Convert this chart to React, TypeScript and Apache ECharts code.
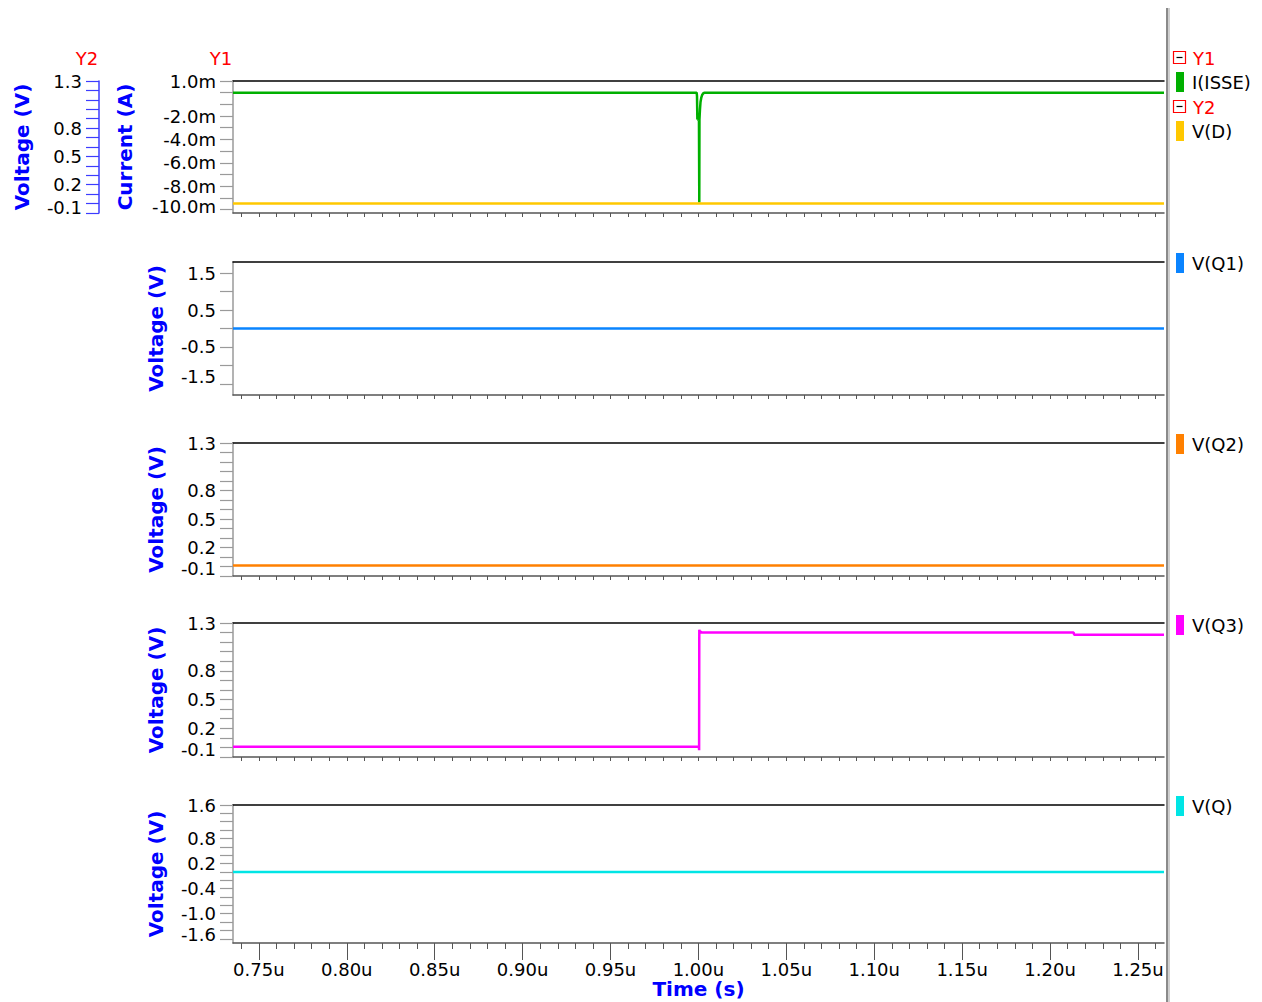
import React, { useEffect, useRef } from "react";
import * as echarts from "echarts";

const FONT = '"DejaVu Sans", Verdana, sans-serif';

const T_MIN = 0.7353;
const T_MAX = 1.2648;

const timeMajorTicks = [0.75, 0.8, 0.85, 0.9, 0.95, 1.0, 1.05, 1.1, 1.15, 1.2, 1.25];
const timeMinorTicks = [
  0.74, 0.75, 0.76, 0.77, 0.78, 0.79, 0.8, 0.81, 0.82, 0.83, 0.84, 0.85, 0.86, 0.87, 0.88, 0.89,
  0.9, 0.91, 0.92, 0.93, 0.94, 0.95, 0.96, 0.97, 0.98, 0.99, 1.0, 1.01, 1.02, 1.03, 1.04, 1.05,
  1.06, 1.07, 1.08, 1.09, 1.1, 1.11, 1.12, 1.13, 1.14, 1.15, 1.16, 1.17, 1.18, 1.19, 1.2, 1.21,
  1.22, 1.23, 1.24, 1.25, 1.26,
];

// Panel 1, Y1: current (mA)
const y1Ticks = [1, 0, -1, -2, -3, -4, -5, -6, -7, -8, -9, -10];
const y1Labels = [1, -2, -4, -6, -8, -10];
// Panel 1, Y2 and panels 3/4: voltage
const v13Ticks = [1.3, 1.2, 1.1, 1.0, 0.9, 0.8, 0.7, 0.6, 0.5, 0.4, 0.3, 0.2, 0.1, 0.0, -0.1];
const v13Labels = [1.3, 0.8, 0.5, 0.2, -0.1];
// Panel 2
const q1Ticks = [1.5, 1.0, 0.5, 0.0, -0.5, -1.0, -1.5];
const q1Labels = [1.5, 0.5, -0.5, -1.5];
// Panel 5
const qTicks = [1.6, 1.4, 1.2, 1.0, 0.8, 0.6, 0.4, 0.2, 0.0, -0.2, -0.4, -0.6, -0.8, -1.0, -1.2, -1.4, -1.6];
const qLabels = [1.6, 0.8, 0.2, -0.4, -1.0];
const qBottomLabels = [-1.6];

// Series (time in µs, value)
const iisseData = [
  [0.7353, 0.0], [0.999, 0.0], [0.9992, -0.3], [0.9994, -2.3], [0.9997, -1.8], [1.0, -2.4],
  [1.0003, -2.2], [1.0005, -9.4], [1.0006, -2.3], [1.0009, -1.4], [1.0012, -0.8], [1.0016, -0.45],
  [1.0021, -0.2], [1.0028, -0.05], [1.0036, 0.0], [1.2648, 0.0],
];
const vdData = [[0.7353, 0.0], [1.2648, 0.0]];
const vq1Data = [[0.7353, 0.0], [1.2648, 0.0]];
const vq2Data = [[0.7353, 0.01], [1.2648, 0.01]];
const vq3Data = [
  [0.7353, 0.008], [1.0003, 0.008], [1.0004, -0.03], [1.0005, 1.23], [1.0008, 1.19], [1.0011, 1.21],
  [1.002, 1.2], [1.2134, 1.2], [1.2137, 1.177], [1.2648, 1.177],
];
const vqData = [[0.7353, 0.0], [1.2648, 0.0]];

const seriesNames = ["I(ISSE)", "V(D)", "V(Q1)", "V(Q2)", "V(Q3)", "V(Q)"];
const seriesColors = ["#00b000", "#ffc800", "#0a84ff", "#ff8000", "#ff00ff", "#00e5e5"];

const grids = [
  { top: 81, height: 132 },
  { top: 262, height: 133 },
  { top: 443, height: 133 },
  { top: 623, height: 134 },
  { top: 805, height: 138 },
];

const LABEL_SIZE = 18;
const LABEL_LH = 16;
const NAME_SIZE = 20;

function fmt(fixed: number, suffix: string, lowVal: number | null, key: string) {
  return (v: number) => {
    const s = v.toFixed(fixed) + suffix;
    if (lowVal !== null && Math.abs(v - lowVal) < 1e-9) return `{${key}|${s}}`;
    return s;
  };
}

function lo(pad: number) {
  return {
    padding: [0, 0, pad, 0],
    fontSize: LABEL_SIZE,
    lineHeight: LABEL_LH,
    fontFamily: FONT,
    color: "#000",
  };
}
const labelRich = { lo5: lo(5), lo8: lo(8), lo12: lo(12), lo15: lo(15), lo16: lo(16) };

function yAxis(
  gridIndex: number,
  min: number,
  max: number,
  ticks: number[],
  labels: number[],
  formatter: (v: number) => string,
  name: string,
  nameGap: number,
  extra: any = {}
) {
  const lineColor = extra.lineColor || "#9a9a9a";
  return {
    type: "value",
    gridIndex,
    min,
    max,
    position: "left",
    offset: extra.offset || 0,
    axisLine: { show: true, onZero: false, lineStyle: { color: lineColor, width: 1.5 } },
    axisTick: { show: true, customValues: ticks, length: 13, lineStyle: { color: lineColor, width: 1.2 } },
    axisLabel: {
      customValues: labels,
      formatter,
      margin: 17,
      fontSize: LABEL_SIZE,
      lineHeight: LABEL_LH,
      fontFamily: FONT,
      color: "#000",
      rich: labelRich,
      showMinLabel: true,
      showMaxLabel: true,
      hideOverlap: false,
    },
    splitLine: { show: false },
    name,
    nameLocation: "middle",
    nameGap,
    nameRotate: 90,
    nameTextStyle: { color: "#0000ff", fontWeight: "bold", fontSize: NAME_SIZE, fontFamily: FONT },
  };
}

function buildOption() {
  const xAxes: any[] = [];
  grids.forEach((_, i) => {
    xAxes.push({
      type: "value",
      gridIndex: i,
      min: T_MIN,
      max: T_MAX,
      position: "bottom",
      axisLine: { show: true, onZero: false, lineStyle: { color: "#555", width: 1.5 } },
      axisTick: { show: true, customValues: timeMinorTicks, length: i === 4 ? 6 : 4, lineStyle: { color: "#555", width: 1 } },
      axisLabel: { show: false },
      splitLine: { show: false },
    });
    xAxes.push({
      type: "value",
      gridIndex: i,
      min: T_MIN,
      max: T_MAX,
      position: "top",
      axisLine: { show: true, onZero: false, lineStyle: { color: "#000", width: 1.5 } },
      axisTick: { show: false },
      axisLabel: { show: false },
      splitLine: { show: false },
    });
  });
  xAxes.push({
    type: "value",
    gridIndex: 4,
    min: T_MIN,
    max: T_MAX,
    position: "bottom",
    axisLine: { show: false, onZero: false },
    axisTick: { show: true, customValues: timeMajorTicks, length: 17, lineStyle: { color: "#555", width: 1 } },
    axisLabel: {
      customValues: timeMajorTicks,
      formatter: (v: number) => v.toFixed(2) + "u",
      margin: 18,
      fontSize: LABEL_SIZE,
      lineHeight: LABEL_LH,
      fontFamily: FONT,
      color: "#000",
      showMinLabel: true,
      showMaxLabel: true,
    },
    splitLine: { show: false },
    name: "Time (s)",
    nameLocation: "middle",
    nameGap: 37,
    nameTextStyle: { color: "#0000ff", fontWeight: "bold", fontSize: NAME_SIZE, lineHeight: 18, fontFamily: FONT },
  });

  const yAxes: any[] = [
    yAxis(0, -10.3, 1.0, y1Ticks, y1Labels, fmt(1, "m", -10, "lo5"), "Current (A)", 98),
    yAxis(0, -0.1, 1.3, v13Ticks, v13Labels, fmt(1, "", -0.1, "lo12"), "Voltage (V)", 67, {
      offset: 134,
      lineColor: "#3c3cff",
    }),
    yAxis(1, -1.8, 1.8, q1Ticks, q1Labels, fmt(1, "", -1.5, "lo15"), "Voltage (V)", 67),
    yAxis(2, -0.1, 1.3, v13Ticks, v13Labels, fmt(1, "", -0.1, "lo16"), "Voltage (V)", 67),
    yAxis(3, -0.1, 1.3, v13Ticks, v13Labels, fmt(1, "", -0.1, "lo16"), "Voltage (V)", 67),
    yAxis(4, -1.7, 1.6, qTicks, qLabels, fmt(1, "", null, "lo16"), "Voltage (V)", 67),
  ];
  // separate label-only axis for the bottom label of panel 5 (kept clear of overlap hiding)
  yAxes.push({
    type: "value",
    gridIndex: 4,
    min: -1.7,
    max: 1.6,
    position: "left",
    axisLine: { show: false, onZero: false },
    axisTick: { show: false },
    axisLabel: {
      customValues: qBottomLabels,
      formatter: fmt(1, "", -1.6, "lo8"),
      margin: 17,
      fontSize: LABEL_SIZE,
      lineHeight: LABEL_LH,
      fontFamily: FONT,
      color: "#000",
      rich: labelRich,
      showMinLabel: true,
      showMaxLabel: true,
    },
    splitLine: { show: false },
  });

  const datasets = [iisseData, vdData, vq1Data, vq2Data, vq3Data, vqData];
  const xIdx = [0, 0, 2, 4, 6, 8];
  const yIdx = [0, 1, 2, 3, 4, 5];
  const series = datasets.map((d, i) => ({
    type: "line",
    name: seriesNames[i],
    data: d,
    xAxisIndex: xIdx[i],
    yAxisIndex: yIdx[i],
    showSymbol: false,
    symbol: "none",
    lineStyle: { color: seriesColors[i], width: 2.5 },
    itemStyle: { color: seriesColors[i] },
    z: i === 1 ? 3 : 2,
  }));

  // Legend + misc graphic
  const legendRects = [
    { y: 72, name: seriesNames[0], color: seriesColors[0] },
    { y: 121, name: seriesNames[1], color: seriesColors[1] },
    { y: 253, name: seriesNames[2], color: seriesColors[2] },
    { y: 434, name: seriesNames[3], color: seriesColors[3] },
    { y: 615, name: seriesNames[4], color: seriesColors[4] },
    { y: 796, name: seriesNames[5], color: seriesColors[5] },
  ];
  const graphic: any[] = [
    { type: "rect", shape: { x: 1166, y: 8, width: 2, height: 994 }, style: { fill: "#8a8a8a" } },
    { type: "rect", shape: { x: 1168, y: 8, width: 2, height: 994 }, style: { fill: "#cfcfcf" } },
  ];
  legendRects.forEach((l) => {
    graphic.push({ type: "rect", shape: { x: 1176, y: l.y, width: 8, height: 20 }, style: { fill: l.color } });
    graphic.push({
      type: "text",
      x: 1192,
      y: l.y + 10,
      style: {
        text: l.name,
        fill: "#000",
        font: `18px ${FONT}`,
        align: "left",
        textAlign: "left",
        verticalAlign: "middle",
        textVerticalAlign: "middle",
      },
    });
  });
  const groupHeads = [
    { y: 58, text: "Y1" },
    { y: 107, text: "Y2" },
  ];
  groupHeads.forEach((g) => {
    graphic.push({
      type: "rect",
      shape: { x: 1173.5, y: g.y - 6.5, width: 12, height: 12 },
      style: { fill: "#fff", stroke: "#ff0000", lineWidth: 1.2 },
    });
    graphic.push({
      type: "line",
      shape: { x1: 1176.5, y1: g.y - 0.5, x2: 1182.5, y2: g.y - 0.5 },
      style: { stroke: "#000", lineWidth: 1.2 },
    });
    graphic.push({
      type: "text",
      x: 1193,
      y: g.y,
      style: {
        text: g.text,
        fill: "#ff0000",
        font: `18px ${FONT}`,
        align: "left",
        textAlign: "left",
        verticalAlign: "middle",
        textVerticalAlign: "middle",
      },
    });
  });
  const axisHeads = [
    { x: 221, text: "Y1" },
    { x: 87, text: "Y2" },
  ];
  axisHeads.forEach((a) => {
    graphic.push({
      type: "text",
      x: a.x,
      y: 58,
      style: {
        text: a.text,
        fill: "#ff0000",
        font: `18px ${FONT}`,
        align: "center",
        textAlign: "center",
        verticalAlign: "middle",
        textVerticalAlign: "middle",
      },
    });
  });

  return {
    animation: false,
    backgroundColor: "#fff",
    grid: grids.map((g) => ({ left: 233, width: 931, top: g.top, height: g.height })),
    xAxis: xAxes,
    yAxis: yAxes,
    series,
    graphic,
  };
}

export default function App() {
  const ref = useRef<HTMLDivElement>(null);
  useEffect(() => {
    const chart = echarts.init(ref.current!, null, { renderer: "svg" });
    chart.setOption(buildOption() as any);
    return () => chart.dispose();
  }, []);
  return (
    <div
      ref={ref}
      style={{ position: "fixed", left: 0, top: 0, width: 1262, height: 1002, background: "#fff" }}
    />
  );
}
